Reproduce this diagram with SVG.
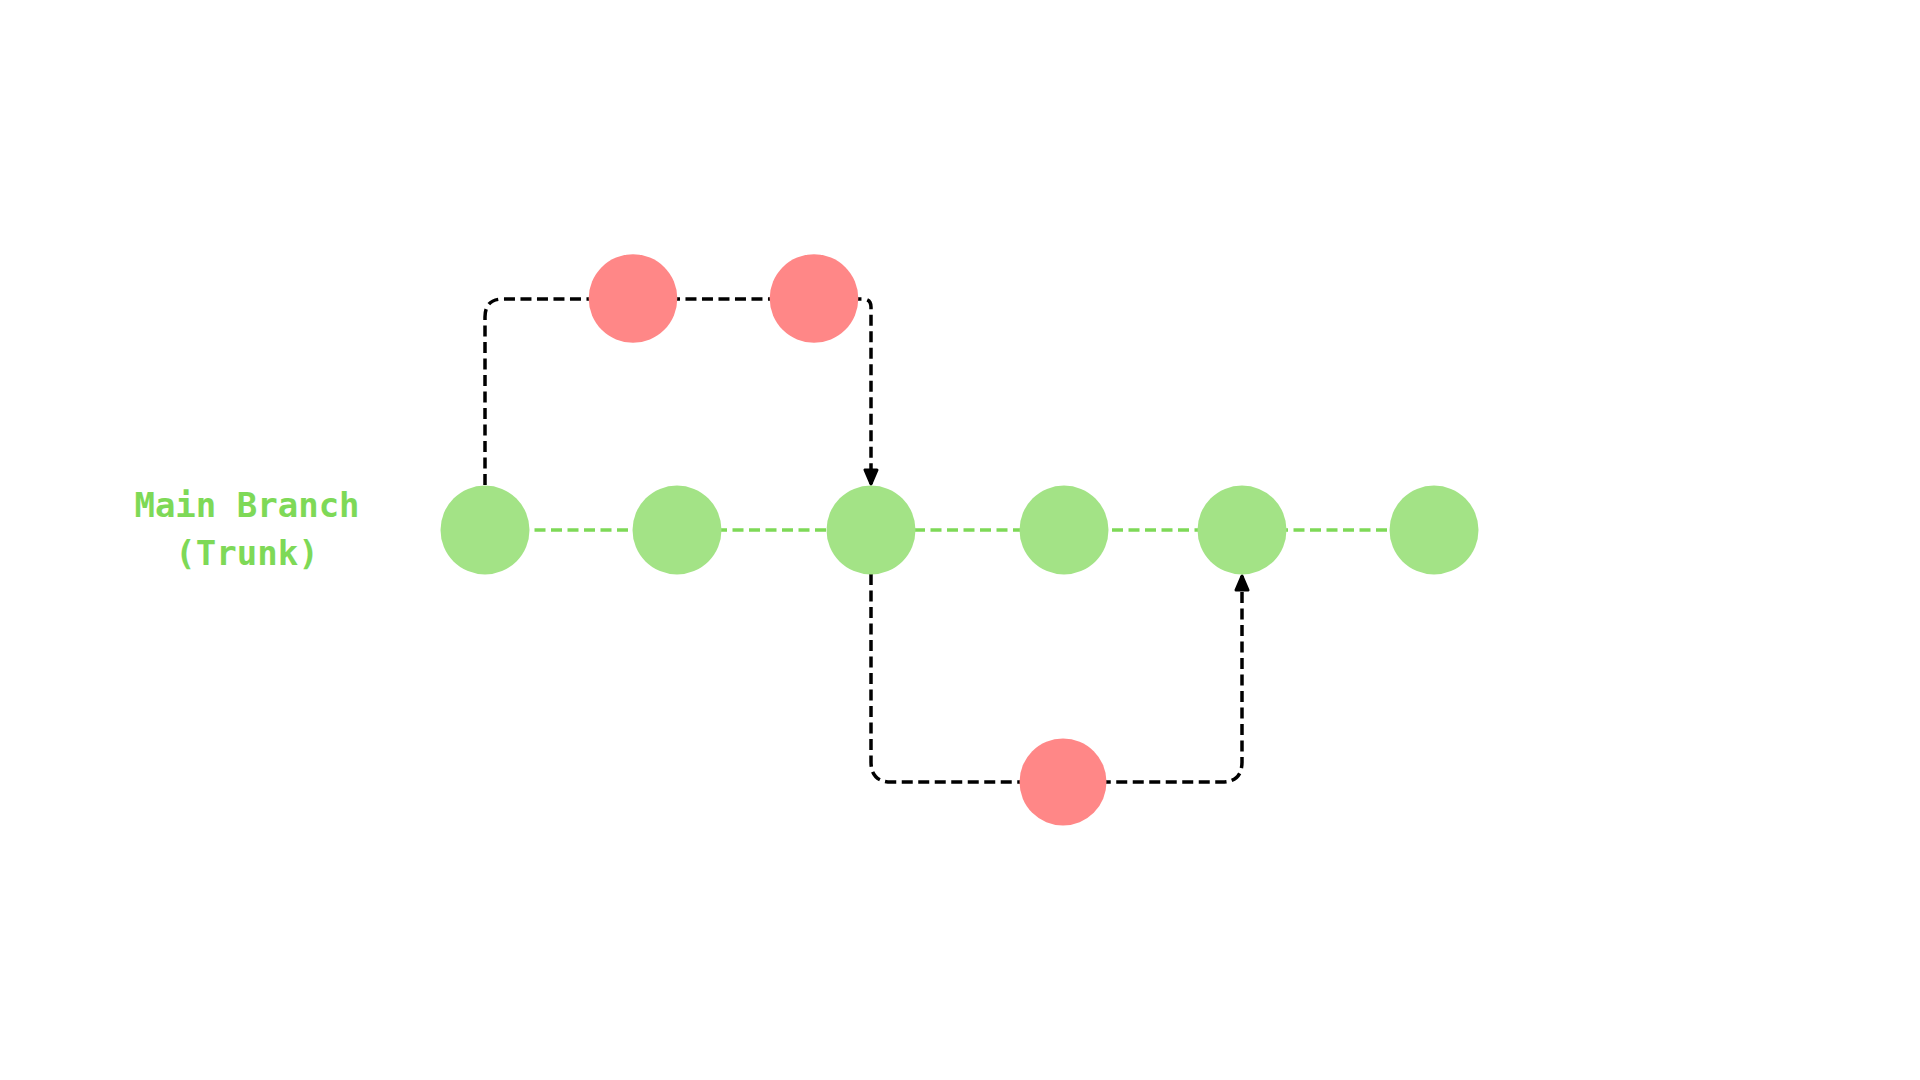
<svg xmlns="http://www.w3.org/2000/svg" width="1920" height="1080" viewBox="0 0 1920 1080">
  <style>
    .main { fill: #a3e386; }
    .feat { fill: #ff8787; }
    .trunk { stroke: #7ed957; stroke-width: 3.5; stroke-dasharray: 11 5.5; fill: none; }
    .branch { stroke: #000; stroke-width: 3.5; stroke-dasharray: 11 5.5; fill: none; }
    .label { font-family: "DejaVu Sans Mono", "Liberation Mono", monospace; font-weight: bold; font-size: 34px; fill: #7ed957; text-anchor: middle; }
  </style>
  <defs>
    <marker id="arrow" viewBox="-2 -2 20 18" refX="15" refY="7" markerWidth="20" markerHeight="18" markerUnits="userSpaceOnUse" orient="auto">
      <path d="M1,1 L15,7 L1,13 Z" fill="#000" stroke="#000" stroke-width="3" stroke-linejoin="round"/>
    </marker>
  </defs>
  <rect width="1920" height="1080" fill="#fff"/>
  <g id="connectors">
    <line class="trunk" x1="485" y1="530" x2="1434" y2="530"/>
    <path class="branch" d="M485,485 V317 Q485,299 503,299 H863 Q871,299 871,307 V484" marker-end="url(#arrow)"/>
    <path class="branch" d="M871,574 V762 Q871,782 891,782 H1222 Q1242,782 1242,762 V576" marker-end="url(#arrow)"/>
  </g>
  <g id="label">
    <text class="label" x="247" y="517">Main Branch</text>
    <text class="label" x="247" y="565">(Trunk)</text>
  </g>
  <g id="m1"><circle class="main" cx="485" cy="530" r="44.5"/></g>
  <g id="m2"><circle class="main" cx="677" cy="530" r="44.5"/></g>
  <g id="m3"><circle class="main" cx="871" cy="530" r="44.5"/></g>
  <g id="m4"><circle class="main" cx="1064" cy="530" r="44.5"/></g>
  <g id="m5"><circle class="main" cx="1242" cy="530" r="44.5"/></g>
  <g id="m6"><circle class="main" cx="1434" cy="530" r="44.5"/></g>
  <g id="f1"><circle class="feat" cx="633" cy="298.5" r="44.3"/></g>
  <g id="f2"><circle class="feat" cx="814" cy="298.5" r="44.3"/></g>
  <g id="f3"><circle class="feat" cx="1063" cy="782" r="43.5"/></g>
</svg>
